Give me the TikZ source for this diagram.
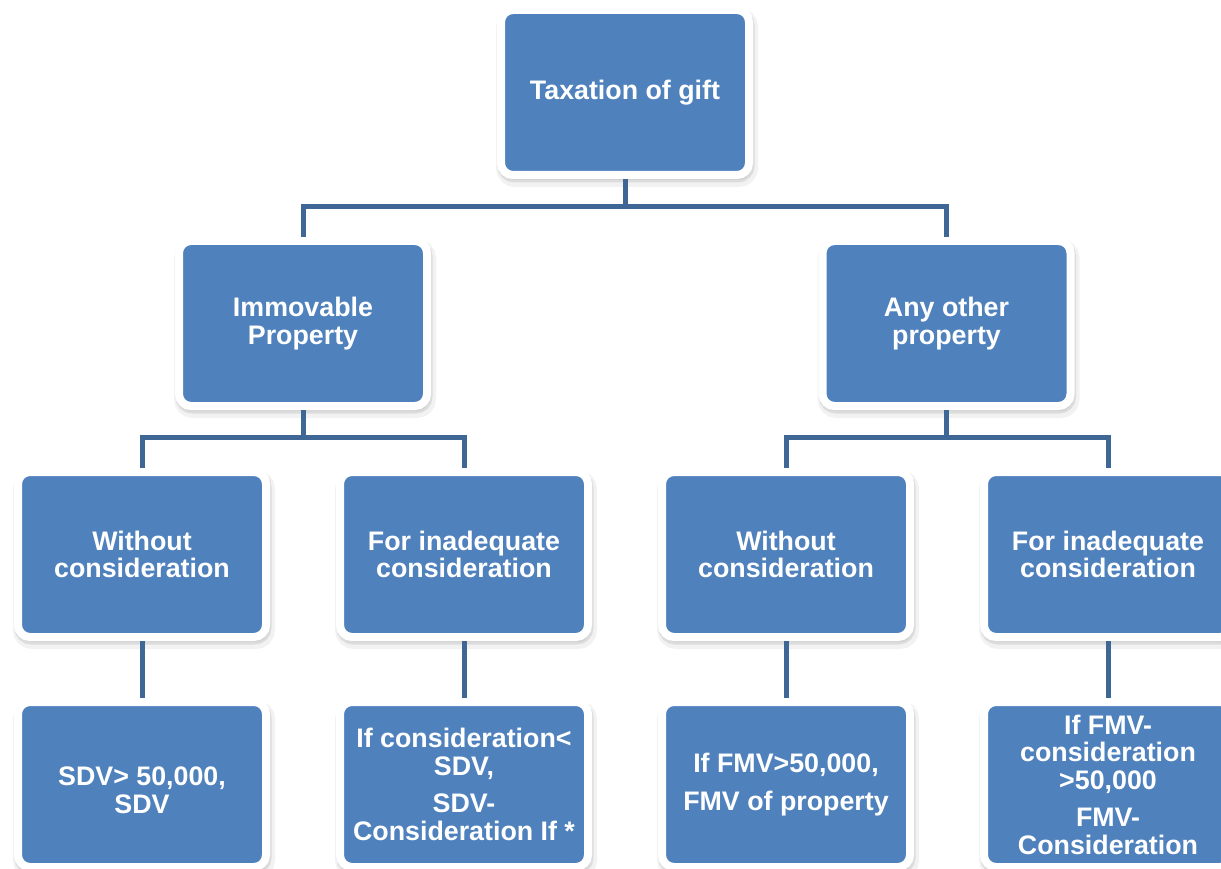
\documentclass[tikz,border=0pt]{standalone}
\usepackage{fontspec}
\setmainfont{Liberation Sans}
\definecolor{boxblue}{HTML}{4F81BD}
\definecolor{linkblue}{RGB}{62,103,150}
\begin{document}
\begin{tikzpicture}[x=1pt,y=-1pt,
  card/.style={draw=white, line width=8pt, fill=boxblue, rounded corners=12pt,
    minimum width=248pt, minimum height=165pt, inner sep=0pt, outer sep=4pt,
    text=white, align=center,
    font=\bfseries\fontsize{26.8}{27.5}\selectfont,
    preaction={draw=black, fill=black, opacity=0.05, line width=14pt,
      transform canvas={xshift=2pt,yshift=-5pt}},
    preaction={draw=black, fill=black, opacity=0.09, line width=9pt,
      transform canvas={xshift=1pt,yshift=-3pt}}},
  link/.style={draw=linkblue, line width=5pt}]
\useasboundingbox (0,0) rectangle (1221,869);
\clip (0,0) rectangle (1221,869);

% junction points of the tree connectors
\coordinate (j0) at (625,207);
\coordinate (j1) at (303,437);
\coordinate (j2) at (946.5,437);

% boxes
\node[card] (top) at (625,92.5) {Taxation of gift};
\node[card] (imm) at (303,323.5) {Immovable\\Property};
\node[card] (oth) at (946.5,323.5) {Any other\\property};

\node[card] (a1) at (142,554.5) {Without\\consideration};
\node[card] (a2) at (464,554.5) {For inadequate\\consideration};
\node[card] (b1) at (786,554.5) {Without\\consideration};
\node[card] (b2) at (1108,554.5) {For inadequate\\consideration};

\node[card] (a1r) at (142,784.5) {\mbox{}\\[2.5pt]SDV> 50,000,\\SDV};
\node[card] (a2r) at (464,784.5) {If consideration<\\SDV,\\[10pt]SDV-\\Consideration If *};
\node[card] (b1r) at (786,784.5) {If FMV>50,000,\\[10pt]FMV of property};
\node[card] (b2r) at (1108,784.5) {If FMV-\\consideration\\>50,000\\[10pt]FMV-\\Consideration};

% connectors
\draw[link] (top.south) -- (j0);
\draw[link] (imm.north) |- (j0) -| (oth.north);
\draw[link] (imm.south) -- (j1);
\draw[link] (a1.north) |- (j1) -| (a2.north);
\draw[link] (oth.south) -- (j2);
\draw[link] (b1.north) |- (j2) -| (b2.north);
\draw[link] (a1.south) -- (a1r.north);
\draw[link] (a2.south) -- (a2r.north);
\draw[link] (b1.south) -- (b1r.north);
\draw[link] (b2.south) -- (b2r.north);
\end{tikzpicture}
\end{document}
